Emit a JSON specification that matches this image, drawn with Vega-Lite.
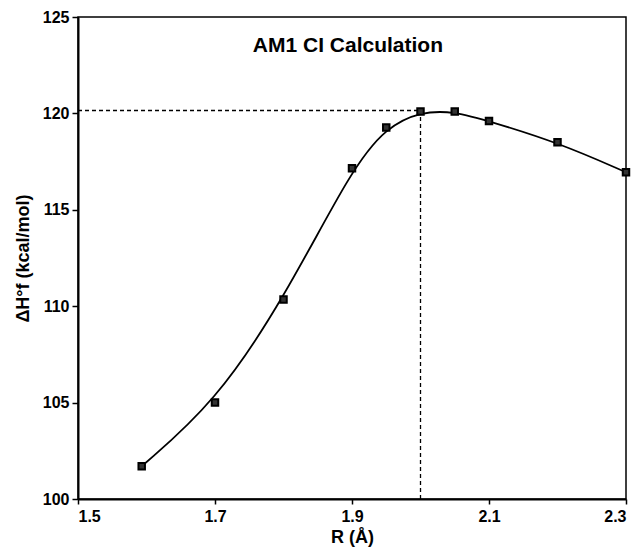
{
  "$schema": "https://vega.github.io/schema/vega-lite/v6.json",
  "width": 548,
  "height": 482,
  "autosize": {"type": "none"},
  "padding": {"left": 78, "top": 17, "right": 15, "bottom": 58},
  "background": "white",
  "config": {
    "view": {"stroke": "black", "strokeWidth": 1.5},
    "font": "Liberation Sans",
    "axis": {
      "labelFont": "Liberation Sans",
      "labelFontWeight": "bold",
      "labelFontSize": 16,
      "labelColor": "black",
      "titleFont": "Liberation Sans",
      "titleFontWeight": "bold",
      "titleFontSize": 18,
      "titleColor": "black",
      "domainColor": "black",
      "domainWidth": 2,
      "tickColor": "black",
      "tickWidth": 1.5,
      "grid": false
    }
  },
  "datasets": {
    "pts": [
      {"R": 1.593, "H": 101.7},
      {"R": 1.70, "H": 105.0},
      {"R": 1.80, "H": 110.35},
      {"R": 1.90, "H": 117.15},
      {"R": 1.95, "H": 119.27},
      {"R": 2.00, "H": 120.1},
      {"R": 2.05, "H": 120.1},
      {"R": 2.10, "H": 119.6},
      {"R": 2.20, "H": 118.5},
      {"R": 2.30, "H": 116.95}
    ],
    "guides": [
      {"x1": 1.5, "x2": 2.0, "y1": 120.15, "y2": 120.15},
      {"x1": 2.0, "x2": 2.0, "y1": 100, "y2": 120.15}
    ],
    "label": [
      {"R": 1.894, "H": 123.5, "text": "AM1 CI Calculation"}
    ]
  },
  "layer": [
    {
      "data": {"name": "guides"},
      "mark": {"type": "rule", "color": "black", "strokeWidth": 1.3, "strokeDash": [4, 3]},
      "encoding": {
        "x": {"field": "x1", "type": "quantitative", "scale": {"domain": [1.5, 2.3], "nice": false, "zero": false}},
        "x2": {"field": "x2"},
        "y": {"field": "y1", "type": "quantitative", "scale": {"domain": [100, 125], "nice": false, "zero": false}},
        "y2": {"field": "y2"}
      }
    },
    {
      "data": {"name": "pts"},
      "mark": {"type": "line", "color": "black", "strokeWidth": 1.8, "interpolate": "basis"},
      "encoding": {
        "x": {"field": "R", "type": "quantitative", "scale": {"domain": [1.5, 2.3], "nice": false, "zero": false},
          "axis": {"values": [1.5, 1.7, 1.9, 2.1, 2.3], "format": ".1f", "title": "R (Å)", "tickSize": 5, "labelPadding": 4, "titlePadding": 4}},
        "y": {"field": "H", "type": "quantitative", "scale": {"domain": [100, 125], "nice": false, "zero": false},
          "axis": {"values": [100, 105, 110, 115, 120, 125], "title": "ΔH°f (kcal/mol)", "tickSize": 6, "labelPadding": 3, "titlePadding": 10}}
      }
    },
    {
      "data": {"name": "pts"},
      "mark": {"type": "point", "shape": "square", "filled": true, "fill": "#333", "stroke": "black", "strokeWidth": 2, "size": 42, "opacity": 1},
      "encoding": {
        "x": {"field": "R", "type": "quantitative"},
        "y": {"field": "H", "type": "quantitative"}
      }
    },
    {
      "data": {"name": "label"},
      "mark": {"type": "text", "font": "Liberation Sans", "fontWeight": "bold", "fontSize": 21, "color": "black", "align": "center", "baseline": "middle"},
      "encoding": {
        "x": {"field": "R", "type": "quantitative"},
        "y": {"field": "H", "type": "quantitative"},
        "text": {"field": "text"}
      }
    }
  ]
}
